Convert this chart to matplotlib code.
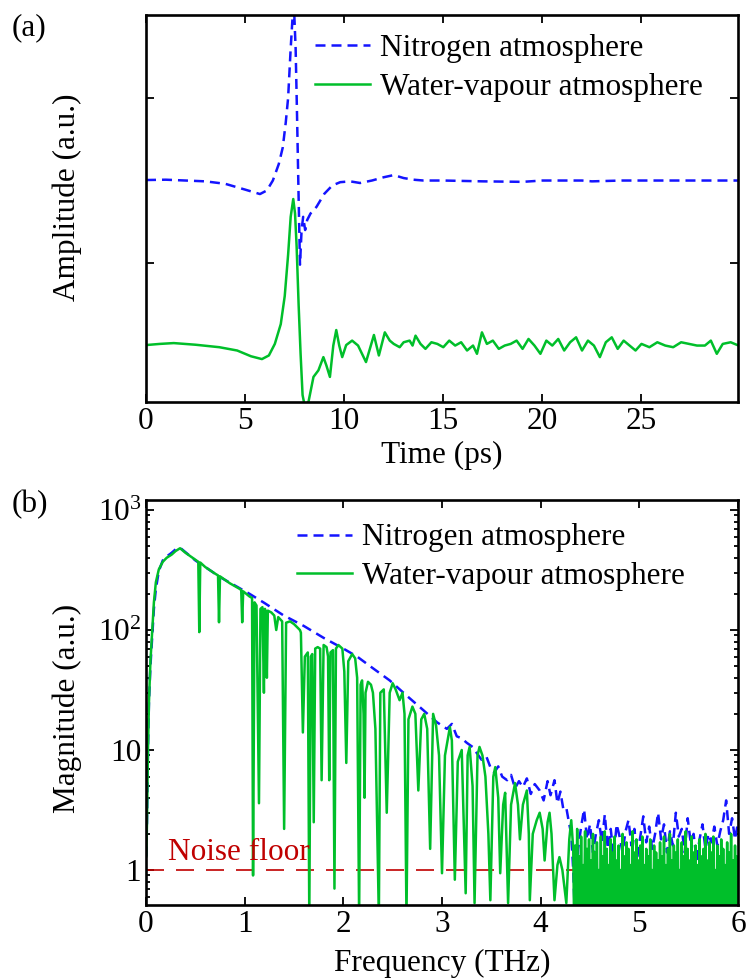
import matplotlib
matplotlib.use("Agg")
import matplotlib.pyplot as plt
from matplotlib.ticker import FixedLocator, LogLocator, NullFormatter

plt.rcParams['font.family'] = ['Liberation Serif', 'DejaVu Serif']
plt.rcParams['mathtext.fontset'] = 'custom'
plt.rcParams['mathtext.rm'] = 'Liberation Serif'
plt.rcParams['mathtext.it'] = 'Liberation Serif:italic'

# ---------------- data: time domain ----------------
t_n2 = [0, 1, 2, 3, 4, 5, 5.75, 6.1, 6.4, 6.7, 6.9, 7.05, 7.17, 7.3, 7.45, 7.55,
        7.62, 7.7, 7.77, 7.85, 7.93, 8.03, 8.13, 8.3, 8.6, 9.0, 9.4, 9.8, 10.3,
        10.8, 11.4, 12.0, 12.5, 13.0, 13.5, 14, 15, 17, 19, 20, 22, 22.5, 24, 26, 28, 29.9]
a_n2 = [0.503, 0.505, 0.50, 0.495, 0.48, 0.445, 0.418, 0.44, 0.50, 0.60, 0.70, 0.85,
        1.0, 1.3, 1.6, 1.3, 0.9, 0.4, -0.01, 0.2, 0.28, 0.2, 0.26, 0.30, 0.34, 0.42,
        0.47, 0.49, 0.495, 0.485, 0.50, 0.52, 0.533, 0.515, 0.505, 0.50, 0.50, 0.495,
        0.492, 0.50, 0.50, 0.495, 0.50, 0.50, 0.50, 0.50]

t_h2o = [0, 0.7, 1.4, 2.5, 3.7, 4.6, 5.3, 5.85, 6.2, 6.5, 6.8, 7.0, 7.17, 7.3, 7.43,
         7.52, 7.6, 7.7, 7.8, 7.9, 8.0, 8.2, 8.45, 8.7, 8.95, 9.1, 9.28, 9.45, 9.6,
         9.75, 9.9, 10.1, 10.4, 10.7, 11.1, 11.5, 11.75, 12.05, 12.3, 12.5, 12.8, 13.0,
         13.3, 13.45, 13.6, 13.85, 14.1, 14.4, 14.7, 15.0, 15.3, 15.6, 15.9, 16.2, 16.5,
         16.7, 16.95, 17.2, 17.5, 17.8, 18.1, 18.4, 18.7, 19.0, 19.3, 19.6, 19.9, 20.2,
         20.5, 20.8, 21.1, 21.4, 21.7, 22.0, 22.3, 22.6, 22.9, 23.2, 23.5, 23.8, 24.1,
         24.4, 24.7, 25.0, 25.4, 25.8, 26.2, 26.6, 27.0, 27.4, 27.8, 28.2, 28.5, 28.8,
         29.1, 29.5, 29.9]
a_h2o = [-0.497, -0.49, -0.485, -0.495, -0.51, -0.53, -0.565, -0.582, -0.56, -0.49,
         -0.37, -0.2, 0.05, 0.28, 0.388, 0.3, 0.1, -0.25, -0.55, -0.8, -0.86, -0.84,
         -0.69, -0.65, -0.57, -0.62, -0.69, -0.5, -0.406, -0.5, -0.57, -0.497, -0.47,
         -0.5, -0.6, -0.436, -0.56, -0.42, -0.47, -0.49, -0.51, -0.48, -0.47, -0.5,
         -0.44, -0.49, -0.52, -0.48, -0.49, -0.51, -0.47, -0.5, -0.48, -0.53, -0.5,
         -0.55, -0.42, -0.49, -0.47, -0.52, -0.5, -0.49, -0.47, -0.52, -0.46, -0.5,
         -0.55, -0.47, -0.5, -0.46, -0.53, -0.48, -0.45, -0.53, -0.47, -0.5, -0.57,
         -0.48, -0.45, -0.52, -0.47, -0.5, -0.53, -0.49, -0.51, -0.48, -0.5, -0.51,
         -0.48, -0.49, -0.5, -0.5, -0.47, -0.55, -0.49, -0.48, -0.5]

# ---------------- data: frequency domain ----------------
f_n2 = [0.003, 0.01, 0.02, 0.03, 0.045, 0.06, 0.08, 0.1, 0.13, 0.17, 0.21, 0.26, 0.3,
        0.345, 0.4, 0.5, 0.6, 0.75, 0.9, 1.05, 1.2, 1.39, 1.6, 1.8, 2.0, 2.14, 2.3,
        2.47, 2.65, 2.81, 2.95, 3.05, 3.1, 3.15, 3.2, 3.25, 3.31, 3.35, 3.4, 3.45,
        3.49, 3.53, 3.57, 3.61, 3.66, 3.7, 3.74, 3.78, 3.82, 3.86, 3.9, 3.94, 3.99,
        4.03, 4.07, 4.1, 4.14, 4.17, 4.2, 4.23, 4.26, 4.29, 4.31, 4.33, 4.345, 4.36,
        4.38, 4.41, 4.44, 4.47, 4.50, 4.53, 4.56, 4.59, 4.62, 4.65, 4.68, 4.71, 4.74,
        4.77, 4.80, 4.83, 4.86, 4.89, 4.92, 4.95, 4.98, 5.01, 5.04, 5.07, 5.10, 5.13,
        5.16, 5.19, 5.22, 5.25, 5.28, 5.31, 5.34, 5.37, 5.40, 5.43, 5.46, 5.49, 5.52,
        5.55, 5.58, 5.61, 5.64, 5.67, 5.70, 5.73, 5.76, 5.79, 5.82, 5.85, 5.88, 5.91,
        5.94, 5.97, 6.0]
m_n2 = [1.3, 2.5, 10, 25, 50, 80, 150, 220, 310, 380, 410, 440, 470, 485, 445, 380,
        335, 276, 235, 200, 168, 133, 108, 86, 70, 60, 48, 38, 28, 21.5, 17, 15, 16.5,
        13, 12.5, 11.5, 10.6, 9.5, 8.3, 8.8, 7.2, 6.5, 7.3, 6.0, 5.6, 6.2, 4.8, 5.5,
        4.9, 5.8, 4.3, 5.2, 4.6, 3.8, 5.5, 4.2, 5.6, 3.6, 4.5, 3.2, 3.3, 2.4, 2.0, 1.0,
        0.45, 0.6, 1.5, 2.3, 3.2, 1.8, 2.4, 1.4, 2.0, 2.6, 1.7, 2.9, 1.5, 2.2, 1.3, 2.4,
        1.9, 1.4, 2.1, 2.6, 1.6, 2.2, 1.3, 1.9, 2.8, 1.7, 2.3, 1.5, 2.0, 3.0, 1.8, 2.4,
        1.4, 2.1, 1.6, 3.0, 1.9, 2.2, 1.4, 2.7, 1.7, 2.0, 1.2, 1.8, 2.4, 1.5, 2.0, 1.7,
        2.3, 1.6, 2.1, 2.6, 3.8, 2.0, 2.7, 1.8, 2.5]

f_h2o = [0.003, 0.01, 0.02, 0.03, 0.045, 0.06, 0.08, 0.1, 0.13, 0.17, 0.21, 0.26, 0.3,
         0.345, 0.4, 0.5, 0.53, 0.54, 0.55, 0.6, 0.7, 0.73, 0.74, 0.75, 0.85, 0.95,
         0.965, 0.975, 0.985, 1.05, 1.075, 1.085, 1.1, 1.12, 1.145, 1.16, 1.18, 1.195,
         1.205, 1.215, 1.225, 1.235, 1.27, 1.3, 1.32, 1.34, 1.38, 1.40, 1.42, 1.46, 1.5,
         1.56, 1.57, 1.59, 1.61, 1.64, 1.655, 1.67, 1.685, 1.70, 1.715, 1.74, 1.765,
         1.78, 1.80, 1.83, 1.845, 1.857, 1.87, 1.895, 1.91, 1.925, 1.95, 1.99, 2.01,
         2.03, 2.05, 2.09, 2.12, 2.14, 2.16, 2.175, 2.19, 2.205, 2.215, 2.225, 2.25,
         2.28, 2.30, 2.325, 2.36, 2.375, 2.41, 2.44, 2.47, 2.5, 2.53, 2.57, 2.60, 2.62,
         2.64, 2.66, 2.70, 2.73, 2.76, 2.79, 2.82, 2.85, 2.88, 2.91, 2.94, 2.97, 3.0,
         3.03, 3.08, 3.1, 3.13, 3.16, 3.2, 3.24, 3.26, 3.28, 3.31, 3.33, 3.36, 3.38,
         3.41, 3.44, 3.47, 3.49, 3.52, 3.54, 3.57, 3.59, 3.62, 3.64, 3.67, 3.70, 3.74,
         3.77, 3.79, 3.82, 3.86, 3.88, 3.89, 3.92, 3.96, 3.99, 4.02, 4.04, 4.07, 4.09,
         4.11, 4.14, 4.17, 4.19, 4.22, 4.26, 4.29, 4.31, 4.33,
         4.34, 4.35, 4.36, 4.37, 4.38, 4.39, 4.40, 4.41, 4.42, 4.43, 4.44, 4.45, 4.46,
         4.47, 4.48, 4.49, 4.50, 4.51, 4.52, 4.53, 4.54, 4.55, 4.56, 4.57, 4.58, 4.59,
         4.60, 4.61, 4.62, 4.63, 4.64, 4.65, 4.66, 4.67, 4.68, 4.69, 4.70, 4.71, 4.72,
         4.73, 4.74, 4.75, 4.76, 4.77, 4.78, 4.79, 4.80, 4.81, 4.82, 4.83, 4.84, 4.85,
         4.86, 4.87, 4.88, 4.89, 4.90, 4.91, 4.92, 4.93, 4.94, 4.95, 4.96, 4.97, 4.98,
         4.99, 5.00, 5.01, 5.02, 5.03, 5.04, 5.05, 5.06, 5.07, 5.08, 5.09, 5.10, 5.11,
         5.12, 5.13, 5.14, 5.15, 5.16, 5.17, 5.18, 5.19, 5.20, 5.21, 5.22, 5.23, 5.24,
         5.25, 5.26, 5.27, 5.28, 5.29, 5.30, 5.31, 5.32, 5.33, 5.34, 5.35, 5.36, 5.37,
         5.38, 5.39, 5.40, 5.41, 5.42, 5.43, 5.44, 5.45, 5.46, 5.47, 5.48, 5.49, 5.50,
         5.51, 5.52, 5.53, 5.54, 5.55, 5.56, 5.57, 5.58, 5.59, 5.60, 5.61, 5.62, 5.63,
         5.64, 5.65, 5.66, 5.67, 5.68, 5.69, 5.70, 5.71, 5.72, 5.73, 5.74, 5.75, 5.76,
         5.77, 5.78, 5.79, 5.80, 5.81, 5.82, 5.83, 5.84, 5.85, 5.86, 5.87, 5.88, 5.89,
         5.90, 5.91, 5.92, 5.93, 5.94, 5.95, 5.96, 5.97, 5.98, 5.99, 6.00]
m_h2o = [1.3, 2.5, 10, 25, 55, 90, 170, 250, 320, 370, 400, 425, 455, 480, 440, 385,
         370, 96, 365, 335, 295, 285, 116, 280, 245, 220, 215, 116, 210, 190, 185, 0.9,
         170, 160, 3.6, 150, 155, 30, 150, 140, 40, 145, 140, 132, 100, 128, 118, 2.2,
         115, 118, 112, 100, 95, 14, 60, 65, 0.4, 60, 63, 2.5, 70, 72, 70, 5.6, 75, 72,
         60, 5.6, 65, 68, 0.7, 70, 75, 70, 45, 7.8, 55, 63, 58, 40, 0.4, 35, 38, 20, 4,
         30, 37, 35, 30, 15, 0.4, 30, 32, 3, 30, 36, 32, 26, 30, 20, 0.4, 18, 23, 20,
         4.6, 18, 20, 15, 1.5, 20, 16, 9, 0.94, 9, 15.5, 12, 0.83, 8, 10, 0.64, 9, 10.6,
         5, 0.53, 9, 10.6, 9, 6, 2, 0.56, 6, 7.2, 4, 0.94, 3.5, 4.4, 0.53, 3.5, 5.3,
         3.5, 1.8, 3.5, 4.6, 2, 0.56, 2, 2.6, 3, 2.2, 1.2, 2.5, 3, 2, 0.56, 1.1, 1.28,
         1, 0.53, 1.8, 2.6, 1.5,
         0.3, 1.6, 0.3, 2.2, 0.35, 1.3, 0.3, 1.9, 0.3, 1.1, 0.4, 2.1, 0.3, 1.5, 0.3,
         1.8, 0.3, 1.2, 0.35, 2.0, 0.3, 1.4, 0.3, 1.7, 0.3, 1.0, 0.4, 1.9, 0.3, 1.3,
         0.3, 2.1, 0.3, 1.5, 0.35, 1.1, 0.3, 1.8, 0.3, 1.4, 0.3, 1.9, 0.4, 1.2, 0.3,
         1.6, 0.3, 1.0, 0.3, 2.0, 0.35, 1.3, 0.3, 1.7, 0.3, 1.5, 0.3, 1.1, 0.4, 2.1,
         0.3, 1.4, 0.3, 1.8, 0.3, 1.2, 0.35, 1.6, 0.3, 1.9, 0.3, 1.1, 0.3, 1.5, 0.4,
         1.3, 0.3, 1.8, 0.3, 1.0, 0.3, 1.6, 0.35, 1.4, 0.3, 1.2, 0.3, 1.7, 0.3, 1.3,
         0.35, 1.9, 0.3, 1.1, 0.3, 1.5, 0.3, 2.0, 0.4, 1.2, 0.3, 1.6, 0.3, 1.4, 0.3,
         1.8, 0.35, 1.0, 0.3, 1.7, 0.3, 1.3, 0.3, 2.1, 0.4, 1.5, 0.3, 1.2, 0.3, 1.9,
         0.3, 1.4, 0.35, 1.6, 0.3, 1.1, 0.3, 1.8, 0.3, 1.3, 0.4, 1.5, 0.3, 2.0, 0.3,
         1.2, 0.3, 1.7, 0.35, 1.4, 0.3, 1.9, 0.3, 1.0, 0.3, 1.6, 0.4, 1.3, 0.3, 1.8,
         0.3, 1.5, 0.3, 1.1, 0.35, 1.7, 0.3, 1.4, 0.3, 2.0, 0.3, 1.2, 0.4, 1.6, 0.3,
         1.3, 0.3]

noise_floor = 1.0
labels = ['Nitrogen atmosphere', 'Water-vapour atmosphere']
time_ticks = [0, 5, 10, 15, 20, 25]
freq_ticks = [0, 1, 2, 3, 4, 5, 6]
mag_ticks = [1, 10, 100, 1000]
mag_ticklabels = ['1', '10', '$10^2$', '$10^3$']

BLUE = '#1414ff'
GREEN = '#00bf2a'
RED = '#c00000'
FS = 22.5

fig = plt.figure(figsize=(7.47, 9.80), dpi=100)
ax1 = fig.add_axes([146/747, 1-402/980, 592/747, 387/980])
ax2 = fig.add_axes([146/747, 1-905/980, 592/747, 405/980])

def style(ax):
    for s in ax.spines.values():
        s.set_linewidth(1.9)
    ax.tick_params(which='both', direction='in', top=True, right=True,
                   labelsize=FS, width=1.3)
    ax.tick_params(which='major', length=6)
    ax.tick_params(which='minor', length=3)

# ---- top panel ----
ax1.plot(t_n2, a_n2, color=BLUE, lw=1.8, ls=(0, (4, 2.4)), label=labels[0])
ax1.plot(t_h2o, a_h2o, color=GREEN, lw=1.8, label=labels[1])
ax1.set_xlim(0, 29.87)
ax1.set_ylim(-0.842, 1.503)
ax1.set_xticks(time_ticks)
ax1.set_yticks([0, 1])
ax1.set_yticklabels([])
style(ax1)
ax1.set_xlabel('Time (ps)', fontsize=FS, labelpad=4)
ax1.set_ylabel('Amplitude (a.u.)', fontsize=FS)
ax1.yaxis.set_label_coords(-0.108, 0.53)
ax1.legend(loc='upper left', bbox_to_anchor=(0.2855, 0.95), frameon=False,
           fontsize=FS, handlelength=1.77, handletextpad=0.32, labelspacing=0.31,
           borderpad=0, borderaxespad=0)
fig.text(12/747, 1-28/980, '(a)', fontsize=FS, va='center', ha='left')

# ---- bottom panel ----
ax2.plot([0, 6], [noise_floor, noise_floor], color=RED, lw=1.2, ls=(0, (10.8, 7.2)))
ax2.plot(f_n2, m_n2, color=BLUE, lw=1.8, ls=(0, (4, 2.4)), label=labels[0])
ax2.plot(f_h2o, m_h2o, color=GREEN, lw=1.8, label=labels[1])
ax2.set_yscale('log')
ax2.set_xlim(0, 6)
ax2.set_ylim(10**(-35/120), 10**(3 + 10/120))
ax2.set_xticks(freq_ticks)
ax2.yaxis.set_major_locator(FixedLocator(mag_ticks))
ax2.set_yticklabels(mag_ticklabels)
ax2.yaxis.set_minor_locator(LogLocator(base=10, subs=range(2, 10)))
ax2.yaxis.set_minor_formatter(NullFormatter())
style(ax2)
ax2.set_xlabel('Frequency (THz)', fontsize=FS, labelpad=7)
ax2.set_ylabel('Magnitude (a.u.)', fontsize=FS)
ax2.yaxis.set_label_coords(-0.108, 0.486)
ax2.text(0.22, 1.21, 'Noise floor', color=RED, fontsize=FS, va='baseline', ha='left')
ax2.legend(loc='upper left', bbox_to_anchor=(0.255, 0.942), frameon=False,
           fontsize=FS, handlelength=1.77, handletextpad=0.32, labelspacing=0.31,
           borderpad=0, borderaxespad=0)
fig.text(12/747, 1-505/980, '(b)', fontsize=FS, va='center', ha='left')

fig.savefig('out.png', dpi=100)
